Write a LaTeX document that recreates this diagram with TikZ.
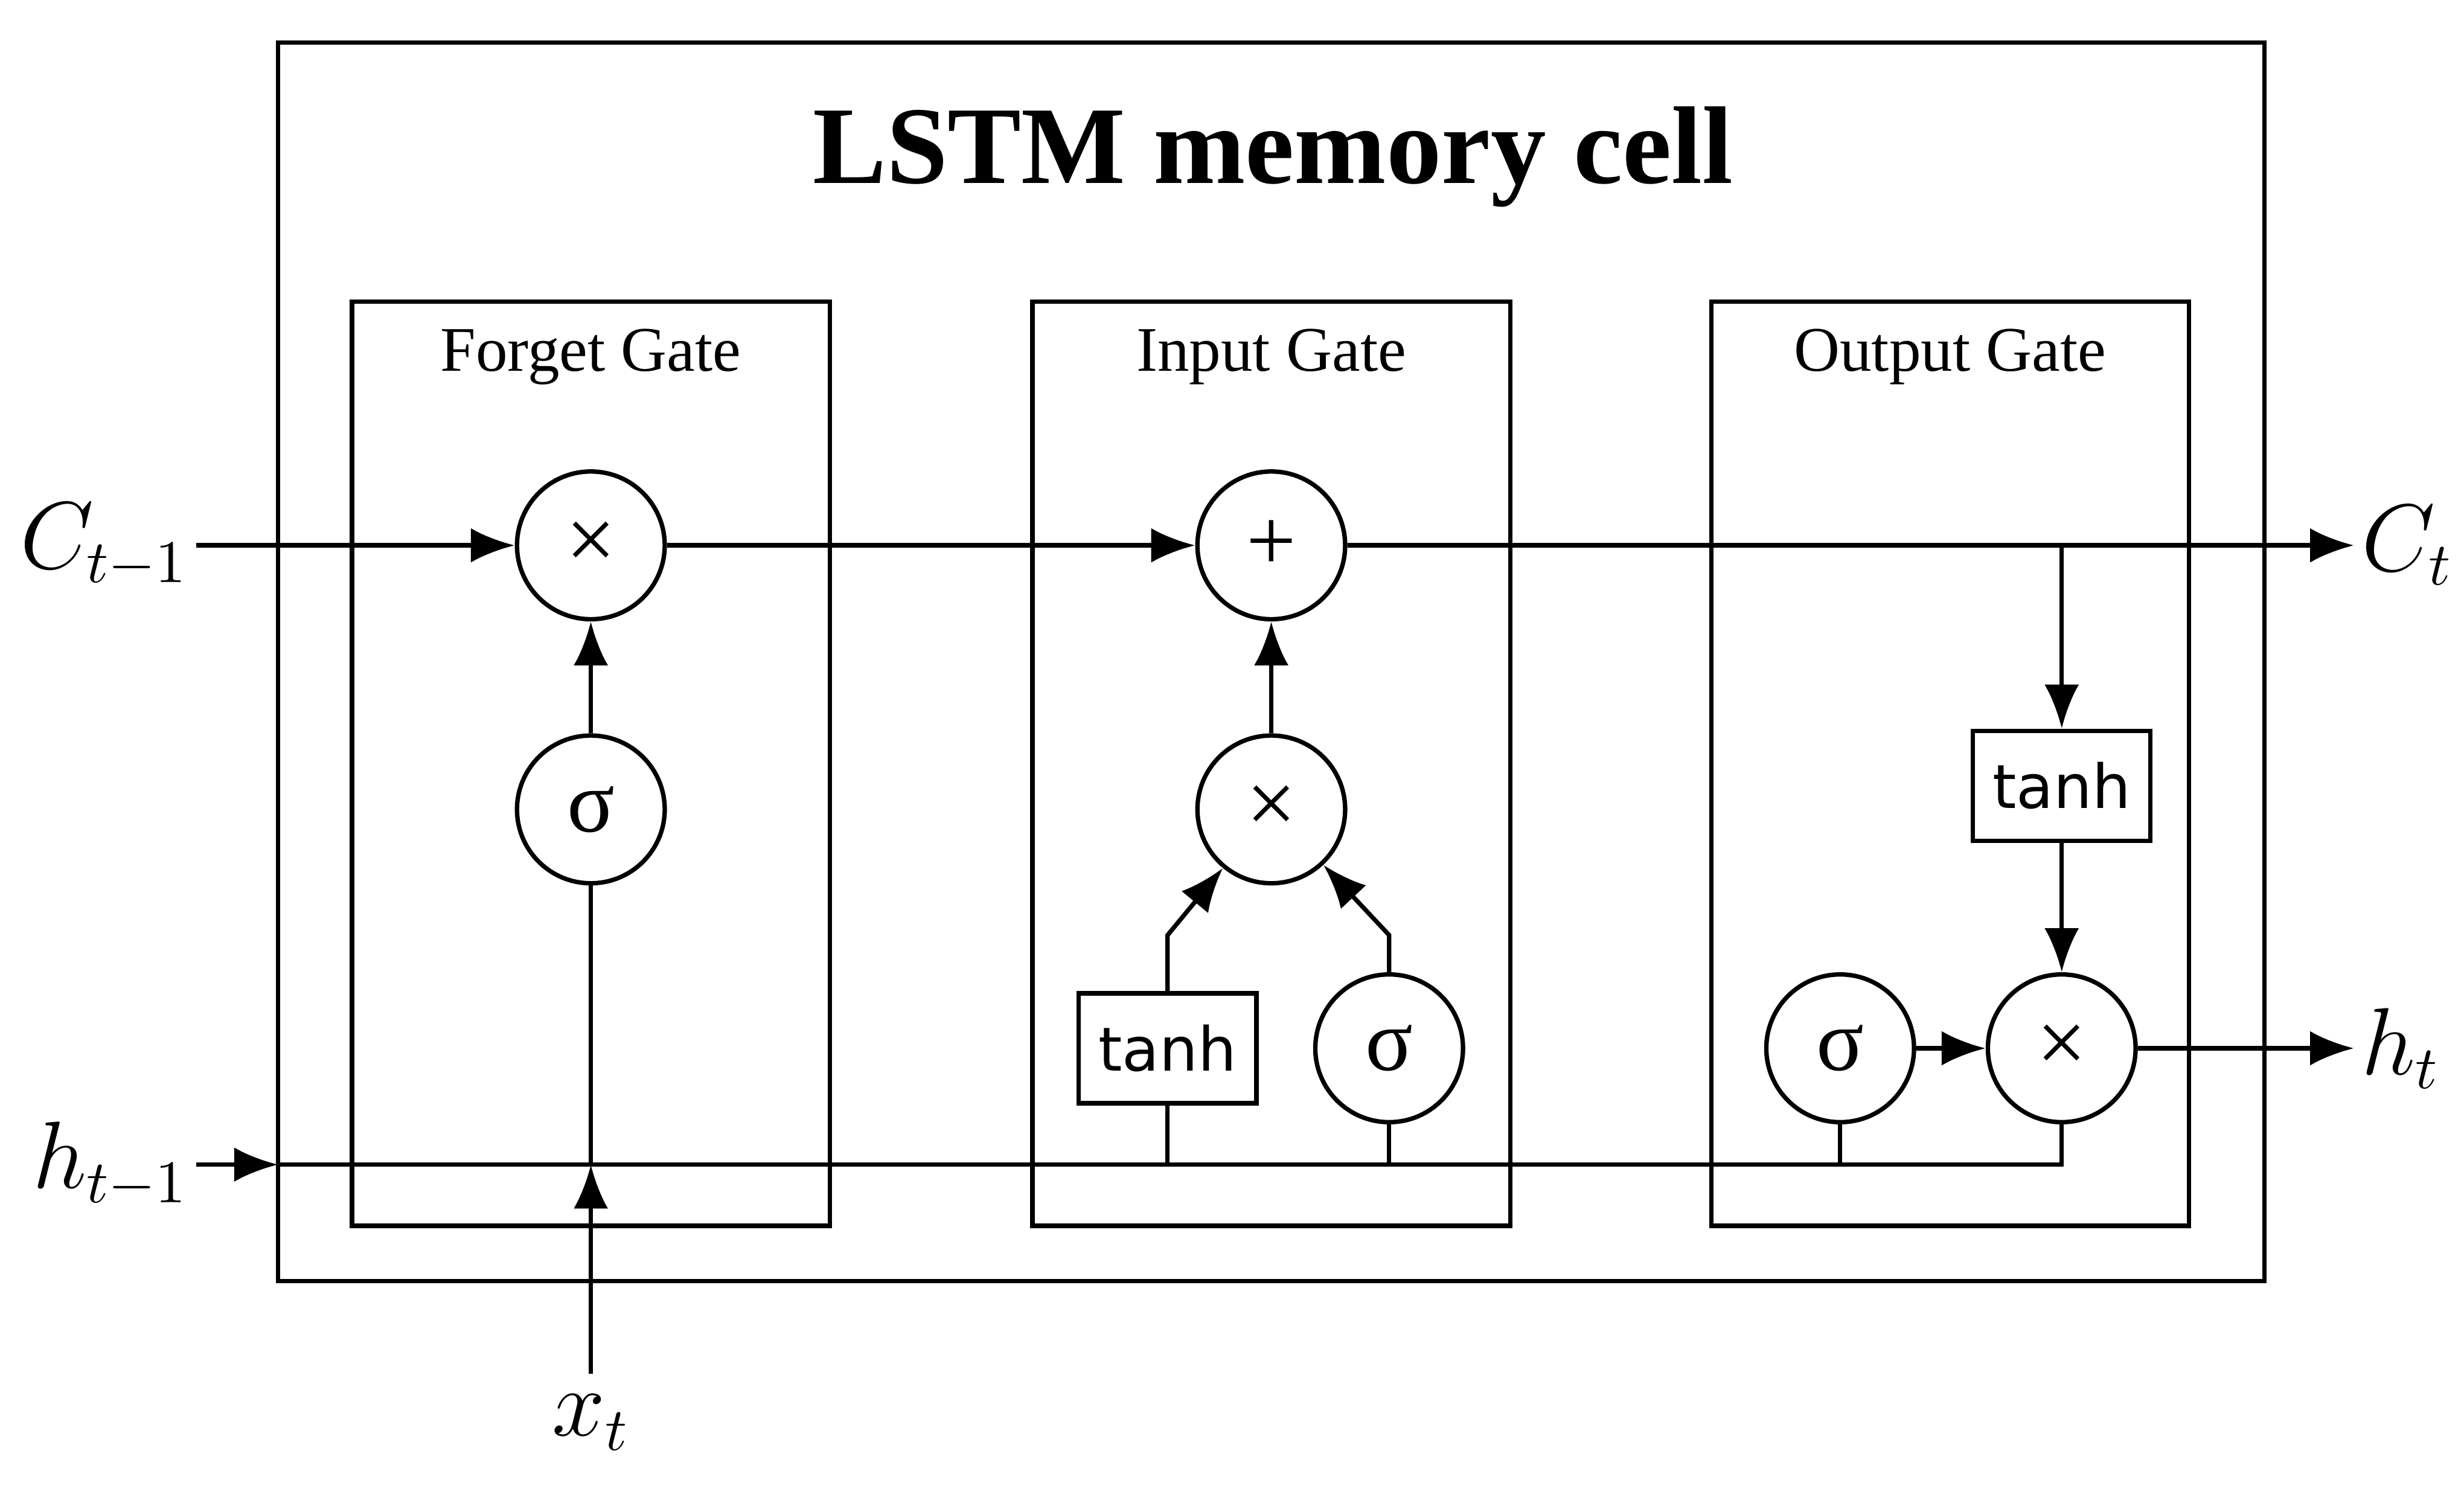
\documentclass[tikz,border=0pt]{standalone}
\usepackage{amsmath, amssymb}
\usepackage{fontspec}
\setmainfont{Liberation Serif}
\setsansfont{DejaVu Sans}
\usepackage{tikz}
\usetikzlibrary{positioning,arrows.meta}

\begin{document}
\begin{tikzpicture}[line width=0.8pt]
\tikzstyle{op}=[circle, draw=black, minimum size=0.94cm, inner sep=0pt, font=\fontsize{16}{16}\selectfont]
\tikzstyle{act}=[rectangle, draw=black, minimum width=1.13cm, minimum height=0.7cm, inner sep=0pt, font=\sffamily\fontsize{11}{11}\selectfont]
\tikzstyle{gate}=[rectangle, draw=black, minimum width=3.04cm, minimum height=5.88cm, inner sep=0pt]
\tikzstyle{connect}=[-{Latex[length=2.8mm,width=2.2mm]}, line width=0.8pt]
\tikzstyle{lbl}=[font=\fontsize{16}{16}\selectfont]

	\useasboundingbox (0,0) rectangle (15.68,-9.56);

	\node[draw, rectangle, minimum width=12.64cm, minimum height=7.88cm, inner sep=0pt] (cell) at (8.09,-4.21) []{};
	\node[font=\bfseries\fontsize{20}{20}\selectfont] (title) at (8.1,-1.0) []{LSTM memory cell};

	\node[gate] (g_f) at (3.76,-4.86) []{};
	\node[gate] (g_i) at (8.09,-4.86) []{};
	\node[gate] (g_o) at (12.41,-4.86) []{};
	\node[font=\fontsize{11.5}{11.5}\selectfont] at (3.76,-2.27) []{Forget Gate};
	\node[font=\fontsize{11.5}{11.5}\selectfont] at (8.09,-2.27) []{Input Gate};
	\node[font=\fontsize{11.5}{11.5}\selectfont] at (12.41,-2.27) []{Output Gate};

	\node[op] (mul_f) at (3.76,-3.47) []{×};
	\node[op] (sig_f) at (3.76,-5.15) []{σ};

	\node[op] (add_i) at (8.09,-3.47) []{+};
	\node[op] (mul_i) at (8.09,-5.15) []{×};
	\node[act] (tanh_i) at (7.43,-6.67) []{tanh};
	\node[op] (sig_i) at (8.84,-6.67) []{σ};

	\node[act] (tanh_o) at (13.12,-5.0) []{tanh};
	\node[op] (sig_o) at (11.71,-6.67) []{σ};
	\node[op] (mul_o) at (13.12,-6.67) []{×};

	\node[lbl, anchor=east, inner sep=1pt] (c_in) at (1.25,-3.47) []{$C_{t-1}$};
	\node[lbl, anchor=west, inner sep=1pt] (c_out) at (14.98,-3.47) []{$C_t$};
	\node[lbl, anchor=east, inner sep=1pt] (h_in) at (1.25,-7.41) []{$h_{t-1}$};
	\node[lbl, anchor=west, inner sep=1pt] (h_out) at (14.98,-6.67) []{$h_t$};
	\node[lbl] (x_in) at (3.76,-9.05) []{$x_t$};

	\coordinate (h_l) at (1.77,-7.41);
	\coordinate (x_j) at (3.76,-7.41);
	\coordinate (t_j) at (7.43,-7.41);
	\coordinate (s_j) at (8.84,-7.41);
	\coordinate (o_j) at (11.71,-7.41);
	\coordinate (m_j) at (13.12,-7.41);
	\coordinate (c_j) at (13.12,-3.47);
	\coordinate (t_k) at (7.43,-5.95);
	\coordinate (s_k) at (8.84,-5.95);

	\path
	 (c_in) edge[connect] (mul_f)
	 (mul_f) edge[connect] (add_i)
	 (add_i) edge[connect] (c_out)
	 (sig_f) edge[connect] (mul_f)
	 (mul_i) edge[connect] (add_i)
	 (h_in) edge[connect] (h_l)
	 (x_in) edge[connect] (x_j)
	 (x_j) edge[] (sig_f)
	 (c_j) edge[connect] (tanh_o)
	 (tanh_o) edge[connect] (mul_o)
	 (sig_o) edge[connect] (mul_o)
	 (mul_o) edge[connect] (h_out)
	 (t_j) edge[] (tanh_i)
	 (s_j) edge[] (sig_i)
	 (o_j) edge[] (sig_o);
	\draw (h_l) -- (m_j) -- (mul_o);
	\draw[connect] (tanh_i) -- (t_k) -- (mul_i);
	\draw[connect] (sig_i) -- (s_k) -- (mul_i);

\end{tikzpicture}
\end{document}
